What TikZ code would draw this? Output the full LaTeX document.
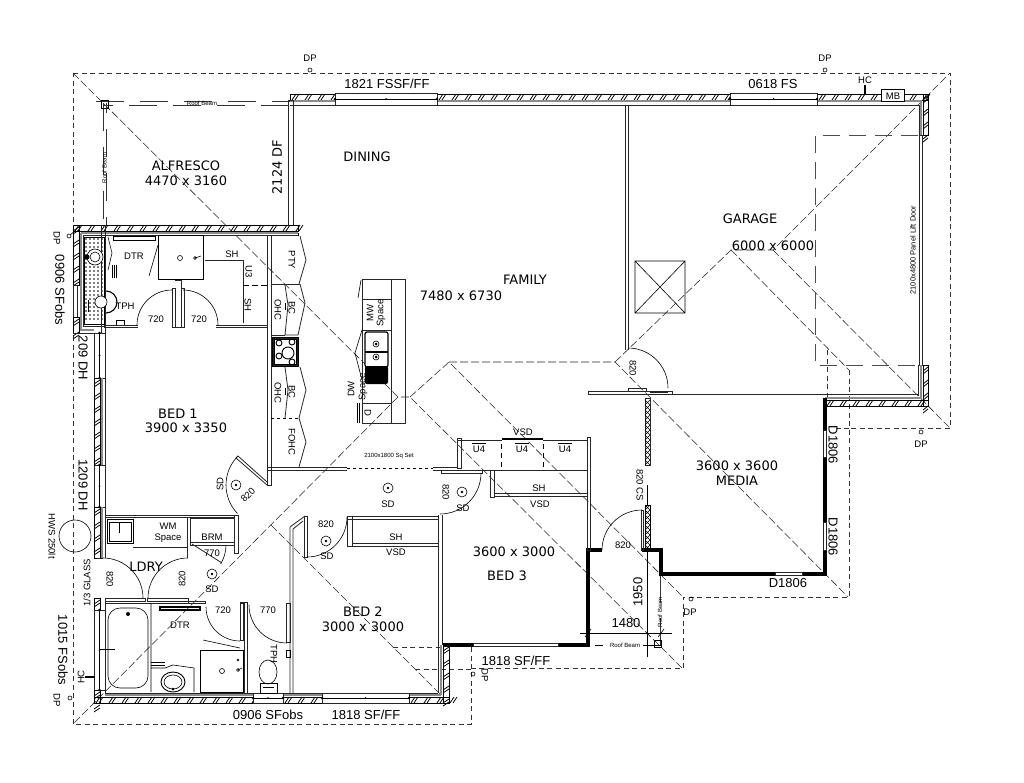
\documentclass[tikz,border=0pt]{standalone}
\usepackage{fontspec}
\setmainfont{Liberation Sans}
\newfontfamily\roomfont{DejaVu Sans}
\tikzset{
  wall/.style={line width=0.8pt,black!85},
  wallcore/.style={line width=1.5pt,black!45},
  heavywall/.style={line width=3.2pt,black},
  thinline/.style={line width=0.6pt,black},
  roofline/.style={line width=0.6pt,black!80,dash pattern=on 5pt off 3.5pt},
  hipline/.style={line width=0.55pt,black!85,dash pattern=on 8pt off 3pt},
  beamline/.style={line width=0.7pt,black!80,dash pattern=on 28pt off 16pt},
  liftdoor/.style={line width=0.8pt,black!70,dash pattern=on 17pt off 9pt},
  roomtext/.style={font=\roomfont\fontsize{13}{15}\selectfont,inner sep=0pt,align=center},
  sizetext/.style={font=\fontsize{13}{15}\selectfont,inner sep=0pt},
  smalltext/.style={font=\fontsize{9.5}{11}\selectfont,inner sep=0pt,align=center},
  tinytext/.style={font=\fontsize{6}{7}\selectfont,inner sep=0pt}
}
% hatched bands of the brick walls
\newcommand\hatchh[4]{
  \draw [thinline] (#1,#3) rectangle (#2,#4);
  \foreach \x in {#1,\the\numexpr#1+13\relax,...,#2} {
    \draw [line width=0.8pt] (\x+2,#4)--(\x+6,#3) (\x+5,#4)--(\x+9,#3);
  }
}
\newcommand\hatchv[4]{
  \draw [thinline] (#1,#3) rectangle (#2,#4);
  \foreach \y in {#3,\the\numexpr#3+13\relax,...,#4} {
    \draw [line width=0.8pt] (#1,\y+6)--(#2,\y+2) (#1,\y+9)--(#2,\y+5);
  }
}
\newcommand\windowh[4]{
  \draw [wall,fill=white] (#1,#3) rectangle (#2,#4);
  \draw [thinline] (#1,#3/2+#4/2)--(#2,#3/2+#4/2);
  \fill (#1,#3/2+#4/2) circle (1.4) (#2,#3/2+#4/2) circle (1.4) (#1/2+#2/2,#3/2+#4/2) circle (1);
}
\newcommand\windowv[4]{
  \draw [wall,fill=white] (#1,#3) rectangle (#2,#4);
  \draw [thinline] (#1/2+#2/2,#3)--(#1/2+#2/2,#4);
  \fill (#1/2+#2/2,#3) circle (1.4) (#1/2+#2/2,#4) circle (1.4) (#1/2+#2/2,#3/2+#4/2) circle (1);
}
\newcommand\doorswing[5]{
  \draw [thinline] (#1,#2) ++(#4:#3) arc [start angle=#4,end angle=#5,radius=#3];
}
\newcommand\smokedet[2]{
  \draw [thinline] (#1,#2) circle (5);
  \fill (#1,#2) circle (1.4);
}
\newcommand\downpipe[2]{\draw [thinline] (#1,#2) circle (2);}
\begin{document}
\begin{tikzpicture}[x=1pt,y=-1pt]
  \useasboundingbox [fill=white] (0,0) rectangle (1024,783);
  \def\roofpath{(73,73) -- (950,73) -- (950,428) -- (849,428) -- (849,597) -- (683,597) -- (683,668) -- (471,668) -- (471,724) -- (73,724) -- cycle}
  % roof
  \draw [roofline] \roofpath;
  \draw [roofline] (849,370)--(849,428) (849,428)--(833,428) (827,350)--(827,398);
  \draw [roofline] (415,669)--(471,669) (393,647)--(440,647) (471,647)--(471,668);
  \draw [hipline] (73,73)--(398,397)--(410,397)--(683,669);
  \draw [hipline] (398,397)--(73,724);
  \draw [hipline] (410,397)--(449,362)--(683,597);
  \draw [hipline] (449,362)--(615,362)--(848,597);
  \draw [hipline] (615,362)--(731,250)--(773,250)--(950,73);
  \draw [hipline] (773,250)--(950,428);
  \draw [hipline] (731,250)--(849,370);
  \draw [hipline] (271,525)--(441,695);
  % roof beams
  \draw [beamline] (96,101.5)--(290,101.5);
  \draw [beamline,dash phase=18pt] (103,105)--(290,105);
  \draw [beamline] (103,103)--(103,226);
  \draw [beamline,dash phase=18pt] (106,103)--(106,226);
  \draw [thinline] (101,100) rectangle (108,108);
  \node [tinytext] (beamtop) at (202,103) {Roof Beam};
  \node [tinytext,rotate=90] (beamleft) at (104.5,168) {Roof Beam};
  \draw [beamline] (660,574)--(660,645);
  \draw [thinline] (595,645)--(603,645) (643,645)--(661,645) (654,640) rectangle (661,647);
  \node [tinytext] (beambot) at (625,645) {Roof Beam};
  \node [tinytext,rotate=90] (beamright) at (660,612) {Roof Beam};
  % top and right walls of the house
  \hatchh{290}{335}{94}{100}
  \hatchh{437}{730}{94}{100}
  \hatchh{817}{928}{94}{100}
  \draw [wallcore] (290,101)--(335,101) (437,101)--(730,101) (817,101)--(921,101)--(921,135);
  \draw [wall] (290,105)--(919,105);
  \windowh{335}{437}{93}{105}
  \windowh{730}{817}{93}{105}
  \hatchv{923}{928}{94}{135}
  \draw [wall] (919,105)--(919,135);
  \draw [wall] (919,135) rectangle (922,365);
  \hatchv{923}{928}{365}{406}
  \draw [wallcore] (921,365)--(921,398)--(825,398);
  \draw [wall] (918,365)--(918,396);
  \hatchh{825}{928}{400}{406}
  \draw [wall] (672,394)--(918,394);
  \draw [thinline,fill=white] (881,89) rectangle (904,101);
  \node [smalltext] (mbox) at (893,96) {MB};
  \draw [line width=1.5pt] (865,85)--(865,95);
  \node [smalltext] (hctop) at (865,80) {HC};
  % garage
  \draw [liftdoor] (918,135)--(815,135)--(815,365)--(918,365);
  \draw [wall] (625,105)--(625,350) (628,105)--(628,350);
  \draw [thinline] (635,261) rectangle (685,313) (635,261)--(685,313) (635,313)--(685,261);
  \doorswing{628}{388}{40}{270}{360}
  \draw [wall] (588,391) rectangle (672,394);
  \draw [wall] (628,388) rectangle (646,391) (650,392)--(668,392);
  % family and dining walls
  \draw [wall] (288,100) rectangle (293,225);
  \draw [wall] (267,467)--(347,467) (267,470)--(347,470) (433,467)--(457,467) (433,470)--(588,470);
  \draw [thinline,dashed] (347,468.5)--(433,468.5);
  % kitchen island
  \draw [wall] (362,279) rectangle (405,423) (391,279)--(391,423) (362,299)--(391,299) (362,330)--(391,330) (362,403)--(391,403);
  \draw [thinline] (361,280)--(358,298) (362,330)--(355,353)--(362,380);
  \draw [line width=1pt] (357,403)--(357,423) (359.5,403)--(359.5,423);
  \draw [line width=1.2pt,fill=white,rounded corners=2pt] (365,332) rectangle (388,367);
  \draw [line width=1.2pt] (365,352)--(388,352);
  \fill [black,rounded corners=2pt] (365,366) rectangle (388,384);
  \fill (376,344) circle (1.5) (376,357) circle (1.5);
  \draw [thinline] (376,344) circle (3) (376,357) circle (3);
  % bed 1 walls and kitchen cupboards
  \draw [wall] (267,235) rectangle (271,485);
  \draw [wall] (271,284)--(300,284);
  \draw [thinline,fill=black!85] (272,337) rectangle (298,366);
  \draw [thinline,fill=white] (274,339) rectangle (296,364);
  \foreach \cx/\cy/\cr in {279/343/3,279/356/3,292/342/3,292/362/3,288/353/6} {
    \draw [line width=0.9pt] (\cx,\cy) circle (\cr);
  }
  \draw [thinline] (298,233)--(298,236);
  \draw [wall] (300,236)--(306,260)--(299,284);
  \draw [wall] (300,284)--(305,303)--(298,335) (285,285)--(288,305)--(285,335) (285,335)--(298,335);
  \draw [wall] (271,335)--(285,335);
  \draw [wall] (300,367)--(306,390)--(299,418) (285,367)--(288,390)--(285,418);
  \draw [wall] (299,418)--(306,442)--(299,467);
  \draw [thinline,dashed] (271,418)--(300,418);
  \draw [thinline] (285,303)--(285,310) (285,388)--(285,395);
  \node [smalltext,rotate=-90] (pty) at (292,260) {PTY};
  \node [smalltext,rotate=-90] (ohcone) at (278,310) {OHC};
  \node [smalltext,rotate=-90] (bcone) at (292,308) {BC};
  \node [smalltext,rotate=-90] (ohctwo) at (278,393) {OHC};
  \node [smalltext,rotate=-90] (bctwo) at (292,392) {BC};
  \node [smalltext,rotate=-90] (fohc) at (292,442) {FOHC};
  % outer walls, left side
  \hatchh{73}{298}{225}{231}
  \draw [wallcore] (81,233)--(298,233);
  \draw [wall] (83,235.5)--(298,235.5);
  \hatchv{73}{79}{225}{285}
  \draw [wall] (73,285) rectangle (77,317);
  \hatchv{73}{79}{317}{333}
  \draw [wallcore] (81,233)--(81,330)--(94,330);
  \draw [wall] (83,235)--(83,326)--(105,326);
  \draw [wall] (73,333)--(105,333);
  \windowv{94}{105}{333}{378}
  \hatchv{94}{100}{378}{465}
  \draw [wallcore] (102,378)--(102,465);
  \draw [wall] (105,378)--(105,465);
  \windowv{94}{105}{465}{507}
  \hatchv{94}{100}{507}{558}
  \draw [wallcore] (102,507)--(102,558);
  \draw [wall] (105,507)--(105,558);
  \hatchv{94}{100}{598}{610}
  \windowv{94}{105}{610}{690}
  \hatchv{94}{100}{690}{703}
  \draw [wall] (105,598)--(105,610) (105,690)--(105,693);
  % bottom wall and bed 2 side
  \hatchh{94}{253}{697}{703}
  \hatchh{283}{322}{697}{703}
  \hatchh{409}{449}{697}{703}
  \draw [wallcore] (105,695)--(253,695) (283,695)--(322,695) (409,695)--(441,695);
  \draw [wall] (105,693)--(438,693);
  \windowh{253}{283}{693}{703}
  \windowh{322}{409}{693}{703}
  \hatchv{443}{449}{645}{703}
  \draw [wallcore] (441,645)--(441,695);
  \draw [wall] (438,515)--(438,693) (442,515)--(442,645);
  \draw [wall] (290,527)--(290,693) (293,529)--(293,693) (290,527)--(305,516) (293,529)--(303,521);
  \draw [wall] (304,516) rectangle (307,557);
  \draw [wall] (347,516) rectangle (352,546);
  \draw [wall] (347,516) rectangle (438,519);
  \draw [wall] (352,543) rectangle (438,546);
  \doorswing{307}{517}{40}{0}{90}
  % bed 3, media
  \draw [heavywall] (443,645)--(473,645) (558,645)--(588,645)--(588,550)--(602,550);
  \draw [wall] (473,643.5) rectangle (558,646.5);
  \draw [heavywall] (642,550)--(661,550)--(661,574)--(775,574) (802,574)--(825,574)--(825,550) (825,398)--(825,430) (825,457)--(825,522);
  \draw [wall] (775,572.5) rectangle (802,575.5) (823.5,430) rectangle (826.5,457) (823.5,522) rectangle (826.5,550);
  \draw [wall] (587,437) rectangle (590,550);
  \draw [wall] (457,438) rectangle (461,468);
  \draw [wall] (457,440)--(502,440) (543,440)--(588,440);
  \draw [line width=1.3pt] (502,439)--(543,439);
  \draw [thinline] (472,443)--(486,443) (515,443)--(529,443) (558,443)--(572,443);
  \draw [thinline,dash pattern=on 5pt off 4pt] (501,444)--(501,467) (543,444)--(543,467);
  \draw [wall] (490,470) rectangle (494,497);
  \draw [wall] (494,496)--(587,496) (494,493.5)--(587,493.5);
  \draw [wall] (441,470) rectangle (482,473);
  \doorswing{440}{473}{41}{0}{90}
  \draw [wall] (645,398) rectangle (650,465);
  \foreach \y in {400,405,...,460} {
    \draw [thinline] (645,\y)--(650,\y+5) (650,\y)--(645,\y+5);
  }
  \draw [thinline] (647.5,485)--(647.5,505);
  \draw [line width=1pt] (645,505) rectangle (650,550);
  \foreach \y in {505,510,...,545} {
    \draw [thinline] (645,\y)--(650,\y+5) (650,\y)--(645,\y+5);
  }
  \draw [wall] (641,510) rectangle (643.5,550);
  \doorswing{642}{550}{40}{180}{270}
  % dimension lines
  \draw [thinline] (647,550)--(647,657) (580,633)--(672,633);
  \draw [thinline] (585,637)--(591,629) (658,637)--(664,629);
  % door leaves, hall and bed 1
  \draw [wall] (267,485)--(236,458)--(238,456)--(267,482);
  \doorswing{267}{485}{41}{223}{136}
  \smokedet{236}{485}
  \smokedet{388}{488}
  \smokedet{326}{541}
  \smokedet{462}{492}
  \smokedet{212}{574}
  % wet room upstairs
  \draw [thinline,fill=white] (84,237) rectangle (104,324);
  \foreach \x in {86,90,...,102} {
    \foreach \y in {239,243,...,322} {
      \fill (\x,\y) circle (0.9);
    }
  }
  \draw [wall] (101,225)--(101,334) (105,225)--(105,334);
  \draw [thinline,fill=white] (95,257) circle (8);
  \draw [thinline] (95,257) circle (5);
  \fill (87,257) circle (2.5);
  \draw [line width=1pt] (113,237) rectangle (155,241);
  \draw [thinline] (112,265)--(112,278) (114,265)--(114,278) (116,265)--(116,278);
  \draw [thinline] (108,237)--(112,253)--(108,270);
  \draw [thinline] (158,245)--(149,276);
  \draw [line width=1pt] (158,236) rectangle (203,280);
  \draw [thinline] (180,258) circle (2.5) (195,258) circle (1.5) (195,258)--(201,256);
  \draw [line width=1.1pt] (106,291) arc [start angle=270,end angle=450,radius=11];
  \draw [thinline,fill=white] (101,302) circle (6);
  \draw [line width=1pt] (88,300)--(88,312);
  \draw [thinline] (116,320) rectangle (124,325);
  \draw [wall] (104,325)--(138,325) (104,327)--(138,327);
  \doorswing{172}{325}{35}{180}{270}
  \doorswing{183}{325}{35}{270}{360}
  \draw [wall] (172,288) rectangle (175,327) (181,288) rectangle (184,327);
  \draw [wall] (172,327)--(184,327) (175,280)--(181,280)--(181,288);
  \draw [wall] (216,325)--(267,325) (216,327)--(267,327);
  \draw [wall] (205,260)--(243,260) (243,260)--(243,323);
  \draw [thinline,dash pattern=on 6pt off 3pt] (243,285)--(267,285);
  % laundry and lower bath
  \draw [wall] (105,515)--(237,515) (105,517.5)--(234,517.5);
  \draw [wall] (234.5,515) rectangle (238,553);
  \draw [line width=1pt] (107,519) rectangle (133,543);
  \draw [thinline] (109,522) rectangle (131,541) (119,523)--(119,533);
  \draw [wall] (187,517)--(187,558) (190,518)--(190,545) (190,518) rectangle (234,542) (190,545)--(234,545);
  \draw [wall] (105,555)--(105,558) (103,558)--(97,558) (133,547)--(187,547);
  \doorswing{103}{598}{40}{270}{360}
  \doorswing{188}{598}{40}{180}{270}
  \draw [wall] (105,598) rectangle (145,601) (147,598) rectangle (188,601);
  \draw [wall] (105,603)--(205,603);
  \doorswing{190}{545}{36}{32}{0}
  \draw [wall] (192,544)--(222,563);
  \draw [line width=1.3pt] (160,607) rectangle (200,610);
  \draw [wall] (205,603) rectangle (188,601);
  \doorswing{240}{607}{34}{180}{90}
  \draw [wall] (240,603) rectangle (243,640) (240,602)--(247,602);
  \doorswing{287}{605}{38}{180}{90}
  \draw [wall] (286,603) rectangle (290,642);
  \draw [wall] (244,603)--(244,693) (247,602)--(247,693);
  \draw [thinline] (203,640)--(240,648);
  \draw [line width=1pt] (200,650) rectangle (243,692);
  \draw [thinline] (222,671) circle (2.5) (238,670) circle (1.5) (238,670)--(242,668) (238,660) circle (1);
  \draw [thinline] (151,603)--(151,692) (151,668)--(165,668)--(173,665)--(194,668)--(194,692);
  \draw [thinline] (151,662)--(165,662) (151,665)--(165,665);
  \draw [line width=0.9pt] (173,682) ellipse (12 and 10);
  \draw [thinline] (173,682) ellipse (9 and 7);
  \fill (173,689) circle (1.5);
  \draw [thinline,rounded corners=12pt] (108,608) rectangle (148,688);
  \fill (128,614) circle (2);
  \draw [line width=1pt] (100,649)--(115,649);
  \draw [line width=1.5pt] (85,677)--(95,677);
  \draw [thinline] (268,672) ellipse (9 and 12);
  \draw [thinline] (260,683) rectangle (277,693) (263,687)--(274,687);
  \draw [line width=0.8pt] (286,650) rectangle (290,657);
  % outside things
  \draw [thinline] (75,536) circle (16);
  \downpipe{310}{70}
  \downpipe{825}{70}
  \downpipe{921}{432}
  \downpipe{69}{236}
  \draw [thinline] (70,235)--(75,231);
  \downpipe{70}{698}
  \downpipe{473}{674}
  \downpipe{691}{599}
  % room names
  \node [roomtext] (alfresco) at (186,173) {ALFRESCO\\4470 x 3160};
  \node [roomtext] (dining) at (367,157) {DINING};
  \node [roomtext,rotate=90] (dfdoor) at (277,167) {2124 DF};
  \node [roomtext] (garage) at (750,219) {GARAGE};
  \node [roomtext] (garagesize) at (773,246) {6000 x 6000};
  \node [roomtext] (family) at (525,280) {FAMILY};
  \node [roomtext] (familysize) at (461,296) {7480 x 6730};
  \node [roomtext] (bedone) at (178,414) {BED 1};
  \node [roomtext] (bedonesize) at (186,428) {3900 x 3350};
  \node [roomtext] (media) at (737,473) {3600 x 3600\\MEDIA};
  \node [roomtext] (bedthreesize) at (514,552) {3600 x 3000};
  \node [roomtext] (bedthree) at (507,576) {BED 3};
  \node [roomtext] (bedtwo) at (363,619) {BED 2\\3000 x 3000};
  \node [roomtext] (ldry) at (146,567) {LDRY};
  % windows and dimensions
  \node [sizetext] (wintop) at (387,84) {1821 FSSF/FF};
  \node [sizetext] (wingar) at (773,84) {0618 FS};
  \node [sizetext,rotate=-90] (winwet) at (60,290) {0906 SFobs};
  \node [sizetext,rotate=-90] (winbedb) at (83,358) {209 DH};
  \node [sizetext,rotate=-90] (winbedc) at (83,485) {1209 DH};
  \node [sizetext,rotate=-90] (winbath) at (63,650) {1015 FSobs};
  \node [sizetext] (winbot) at (268,715) {0906 SFobs};
  \node [sizetext] (winbotb) at (366,715) {1818 SF/FF};
  \node [sizetext] (winbed) at (516,661) {1818 SF/FF};
  \node [sizetext,rotate=-90] (winmedia) at (833,445) {D1806};
  \node [sizetext,rotate=-90] (winmediab) at (833,537) {D1806};
  \node [sizetext] (winmediac) at (788,583) {D1806};
  \node [sizetext] (dimwide) at (626,623) {1480};
  \node [sizetext,rotate=90] (dimhigh) at (638,592) {1950};
  % small labels
  \node [smalltext] (dptop) at (310,58) {DP};
  \node [smalltext] (dptopb) at (825,58) {DP};
  \node [smalltext] (dpright) at (921,444) {DP};
  \node [smalltext,rotate=-90] (dpleft) at (57,238) {DP};
  \node [smalltext,rotate=-90] (dpleftb) at (57,700) {DP};
  \node [smalltext,rotate=-90] (dpbed) at (485,675) {DP};
  \node [smalltext] (dpgar) at (690,612) {DP};
  \node [smalltext,rotate=-90] (hws) at (52,536) {HWS 250lt};
  \node [smalltext,rotate=90] (glass) at (87,583) {1/3 GLASS};
  \node [smalltext,rotate=90] (hcleft) at (81,677) {HC};
  \node [smalltext] (dtrone) at (134,256) {DTR};
  \node [smalltext] (tphone) at (125,306) {TPH};
  \node [smalltext] (doora) at (156,319) {720};
  \node [smalltext] (doorb) at (199,319) {720};
  \node [smalltext] (shone) at (232,254) {SH};
  \node [smalltext,rotate=-90] (uthree) at (249,272) {U3};
  \node [smalltext,rotate=-90] (shtwo) at (248,305) {SH};
  \node [smalltext,rotate=90] (sda) at (220,484) {SD};
  \node [smalltext,rotate=45] (doorc) at (248,495) {820};
  \node [smalltext,rotate=90] (mw) at (370,313) {MW};
  \node [smalltext,rotate=90] (mwspace) at (381,313) {Space};
  \node [smalltext,rotate=90] (dw) at (351,389) {DW};
  \node [smalltext,rotate=90] (dwspace) at (363,387) {Space};
  \node [smalltext,rotate=-90] (dbin) at (368,413) {D};
  \node [tinytext] (sqset) at (389,456) {2100x1800 Sq Set};
  \node [smalltext] (sdb) at (388,504) {SD};
  \node [smalltext] (doord) at (326,524) {820};
  \node [smalltext] (sdc) at (327,556) {SD};
  \node [smalltext,rotate=-90] (doore) at (446,492) {820};
  \node [smalltext] (sdd) at (463,508) {SD};
  \node [smalltext] (shthree) at (396,537) {SH};
  \node [smalltext] (vsdone) at (396,552) {VSD};
  \node [smalltext] (vsdtwo) at (523,432) {VSD};
  \node [smalltext] (ufoura) at (479,449) {U4};
  \node [smalltext] (ufourb) at (522,449) {U4};
  \node [smalltext] (ufourc) at (565,449) {U4};
  \node [smalltext] (shfour) at (539,488) {SH};
  \node [smalltext] (vsdthree) at (540,504) {VSD};
  \node [smalltext,rotate=-90] (doorf) at (633,368) {820};
  \node [smalltext,rotate=-90] (cs) at (640,485) {820 CS};
  \node [smalltext] (doorg) at (623,545) {820};
  \node [smalltext] (wm) at (168,533) {WM\\Space};
  \node [smalltext] (brm) at (212,537) {BRM};
  \node [smalltext] (doorh) at (212,553) {770};
  \node [smalltext,rotate=-90] (doori) at (110,579) {820};
  \node [smalltext,rotate=90] (doorj) at (182,579) {820};
  \node [smalltext] (sde) at (212,589) {SD};
  \node [smalltext] (dtrtwo) at (180,625) {DTR};
  \node [smalltext] (doork) at (223,610) {720};
  \node [smalltext] (doorl) at (268,610) {770};
  \node [smalltext,rotate=-90] (tphtwo) at (274,654) {TPH};
  \node [smalltext,rotate=90,font=\fontsize{7.5}{9}\selectfont] (liftdoortext) at (913,250) {2100x4800 Panel Lift Door};
\end{tikzpicture}
\end{document}
